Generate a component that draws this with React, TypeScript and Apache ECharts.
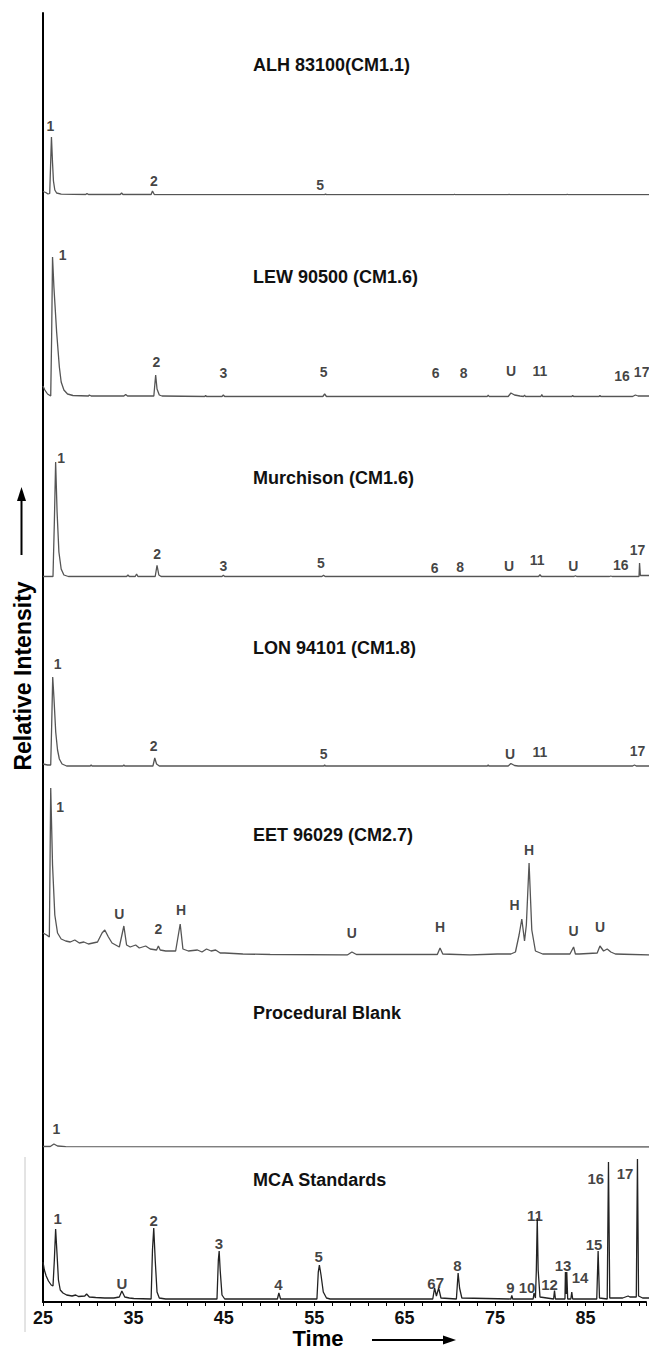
import React, { useEffect, useRef } from "react";
import * as echarts from "echarts";

const T_MIN = 25;
const T_MAX = 91.7;
const FONT = "'Liberation Sans', Arial, sans-serif";

// ---------- ALH 83100 ----------
const ALH_T = [25.0, 25.3, 25.55, 25.74, 25.93, 26.05, 26.15, 26.3, 26.5, 27.0, 29.7, 29.84, 30.0, 33.5, 33.65, 33.8, 36.9, 37.05, 37.25, 56.0, 56.1, 56.2, 70.2, 70.3, 70.4, 76.2, 76.3, 76.4, 82.6, 82.7, 82.8, 91.7];
const ALH_I = [3.5, 2.5, 1, 1.5, 58, 32, 14, 5, 2, 0.8, 0.5, 1.5, 0.5, 0.5, 2, 0.5, 0.5, 4, 0.5, 0.4, 1, 0.4, 0.3, 0.8, 0.3, 0.3, 0.8, 0.3, 0.3, 0.8, 0.3, 0.3];
const ALH_LABELS = ["1", "2", "5"];
const ALH_LT = [25.8, 37.2, 55.5];
const ALH_LI = [69, 14, 10];

// ---------- LEW 90500 ----------
const LEW_T = [25.0, 25.2, 25.5, 25.85, 25.95, 26.05, 26.2, 26.5, 26.8, 27.0, 27.3, 27.7, 28.3, 30.0, 30.1, 30.3, 33.9, 34.1, 34.3, 37.2, 37.4, 37.55, 37.8, 38.1, 42.8, 42.9, 43.0, 44.7, 44.85, 45.0, 55.8, 56.0, 56.2, 73.9, 74.0, 74.1, 76.2, 76.5, 76.9, 77.5, 77.9, 78.0, 78.1, 79.8, 79.9, 80.0, 83.2, 83.3, 83.4, 86.2, 86.3, 86.4, 89.9, 90.2, 90.5, 91.7];
const LEW_I = [11, 7, 3, 1, 60, 140, 110, 65, 30, 15, 7, 3, 1.5, 1, 2, 1, 1, 2.5, 1, 1, 22, 8, 2, 1, 0.5, 1.5, 0.5, 0.5, 2, 0.5, 0.5, 3, 0.5, 0.5, 2, 0.5, 0.5, 4, 2, 1, 0.5, 2, 0.5, 0.5, 2.5, 0.5, 0.5, 1.5, 0.5, 0.5, 1.5, 0.5, 0.5, 2, 1, 1];
const LEW_LABELS = ["1", "2", "3", "5", "6", "8", "U", "11", "16", "17"];
const LEW_LT = [27.17, 37.47, 44.85, 55.88, 68.23, 71.29, 76.51, 79.7, 88.73, 90.89];
const LEW_LI = [142, 35, 24, 25, 24, 24, 26, 26, 21, 25];

// ---------- Murchison ----------
const MUR_T = [25.0, 25.5, 26.1, 26.25, 26.39, 26.55, 26.75, 27.0, 27.3, 27.8, 34.2, 34.35, 34.5, 35.15, 35.3, 35.45, 37.35, 37.55, 37.75, 38.0, 44.7, 44.85, 45.0, 55.7, 55.88, 56.05, 79.55, 79.7, 79.85, 83.45, 83.6, 83.75, 87.35, 87.5, 87.65, 90.6, 90.66, 90.75, 91.7];
const MUR_I = [0.5, 0.5, 0.5, 55, 115, 65, 25, 8, 2, 0.5, 0.5, 2, 0.5, 0.5, 3, 0.5, 0.5, 11.7, 2, 0.5, 0.5, 1.7, 0.5, 0.5, 1.7, 0.5, 0.5, 2.3, 0.5, 0.5, 1.3, 0.5, 0.5, 1, 0.5, 0.5, 14, 1.5, 1.5];
const MUR_LABELS = ["1", "2", "3", "5", "6", "8", "U", "11", "U", "16", "17"];
const MUR_LT = [27.0, 37.55, 44.85, 55.6, 68.1, 70.92, 76.29, 79.4, 83.37, 88.6, 90.43];
const MUR_LI = [119, 23, 11, 14, 9, 10, 11, 17, 11, 12, 27];

// ---------- LON 94101 ----------
const LON_T = [25.0, 25.5, 25.85, 25.95, 26.07, 26.2, 26.4, 26.6, 26.8, 27.1, 27.6, 30.2, 30.3, 30.4, 33.8, 33.9, 34.0, 37.1, 37.3, 37.5, 37.8, 55.9, 56.0, 56.1, 73.9, 74.0, 74.1, 76.2, 76.5, 76.9, 77.3, 89.9, 90.1, 90.3, 91.7];
const LON_I = [3, 2, 2, 40, 90, 70, 35, 17, 8, 3, 1, 1, 2, 1, 1, 2, 1, 1, 9, 3, 1, 1, 2, 1, 1, 2, 1, 1, 3.5, 1.5, 1, 1, 2, 1, 1];
const LON_LABELS = ["1", "2", "5", "U", "11", "17"];
const LON_LT = [26.62, 37.19, 55.88, 76.4, 79.7, 90.43];
const LON_LI = [103, 21, 13, 13, 15, 16];

// ---------- EET 96029 ----------
const EET_T = [25.0, 25.4, 25.7, 25.85, 26.05, 26.3, 26.6, 27.0, 27.5, 28.0, 28.5, 29.0, 29.5, 30.0, 30.5, 31.0, 31.5, 31.8, 32.2, 32.6, 33.0, 33.4, 33.9, 34.2, 34.6, 35.2, 35.6, 36.3, 36.8, 37.5, 37.7, 37.9, 38.5, 39.6, 40.1, 40.4, 41.0, 42.0, 42.5, 43.0, 43.5, 44.0, 44.5, 45.0, 47.0, 50.0, 58.5, 59.0, 59.5, 68.4, 68.7, 69.0, 72.0, 75.0, 76.5, 77.0, 77.4, 77.7, 78.0, 78.2, 78.5, 78.8, 79.2, 80.0, 83.0, 83.4, 83.6, 84.0, 86.0, 86.3, 86.7, 87.1, 87.5, 88.0, 91.7];
const EET_I = [22, 20, 18, 167, 90, 40, 22, 16, 14, 13, 15, 12, 13, 11, 12, 13, 22, 25, 18, 12, 10, 8, 29, 10, 8, 10, 7, 9, 6, 5, 9, 5, 4, 4, 31, 6, 4, 5, 3, 6, 4, 5, 2, 2, 1, 0.5, 0, 3, 0.5, 0.5, 7, 1, 0, 1, 1, 3, 20, 36, 14, 30, 92, 25, 4, 1, 1, 8, 1, 1, 2, 9, 4, 6, 3, 1, 0];
const EET_LABELS = ["1", "U", "2", "H", "U", "H", "H", "H", "U", "U"];
const EET_LT = [26.9, 33.4, 37.7, 40.2, 59.0, 68.7, 76.9, 78.5, 83.4, 86.3];
const EET_LI = [148, 41, 26, 45, 22, 28, 50, 105, 24, 28];

// ---------- Procedural Blank ----------
const BLK_T = [25.0, 25.8, 26.2, 26.6, 27.5, 91.7];
const BLK_I = [0.5, 0.5, 3, 1, 0.3, 0];
const BLK_LABELS = ["1"];
const BLK_LT = [26.47];
const BLK_LI = [18];

// ---------- MCA Standards ----------
const MCA_T = [25.0, 25.15, 25.35, 25.6, 25.9, 26.1, 26.25, 26.39, 26.55, 26.7, 26.9, 27.2, 27.6, 28.2, 28.6, 28.9, 29.6, 29.8, 30.1, 30.8, 31.8, 32.8, 33.4, 33.68, 34.0, 34.5, 35.0, 36.9, 37.05, 37.19, 37.35, 37.55, 37.8, 38.5, 44.15, 44.3, 44.39, 44.5, 44.7, 45.0, 50.8, 50.96, 51.15, 55.15, 55.3, 55.42, 55.6, 55.85, 56.2, 56.6, 67.9, 68.1, 68.3, 68.55, 68.8, 70.5, 70.69, 70.85, 71.1, 76.5, 76.6, 76.7, 78.95, 79.04, 79.2, 79.3, 79.4, 79.5, 79.7, 81.2, 81.3, 81.4, 82.45, 82.5, 82.6, 82.65, 82.75, 83.1, 83.2, 83.3, 85.95, 86.1, 86.25, 87.1, 87.24, 87.38, 88.8, 89.4, 89.6, 90.3, 90.43, 90.55, 91.0, 91.7];
const MCA_I = [38, 30, 24, 19, 15, 14, 40, 71, 45, 20, 10, 7, 5, 4, 5, 3.5, 4, 6, 3, 2.5, 2, 2, 3, 9, 3, 2, 1.5, 1, 50, 72, 40, 8, 2, 1, 1, 40, 49, 30, 5, 1, 1, 7, 1, 1, 28, 35, 25, 8, 2, 1, 1, 12, 4, 12, 2, 1, 27, 12, 2, 1, 4.5, 1, 1, 7, 2, 30, 82, 30, 3, 1, 9.5, 1, 1, 28, 6, 28, 1, 1, 8, 1, 1, 49, 2, 1, 138, 2, 2, 4, 3, 3, 141, 4, 2, 2];
const MCA_LABELS = ["1", "U", "2", "3", "4", "5", "6", "7", "8", "9", "10", "11", "12", "13", "14", "15", "16", "17"];
const MCA_LT = [26.62, 33.68, 37.19, 44.35, 50.91, 55.33, 67.75, 68.69, 70.6, 76.45, 78.27, 79.15, 80.75, 82.24, 84.11, 85.65, 85.84, 89.07];
const MCA_LI = [82, 17, 80, 57, 16, 44, 17, 18, 34.5, 13, 13, 85, 16, 34.5, 23, 56, 122, 127];

const PANELS = [
  { title: "ALH 83100(CM1.1)", titleY: 65, baseline: 195, span: 160, t: ALH_T, v: ALH_I, lab: ALH_LABELS, lt: ALH_LT, li: ALH_LI, color: "#555", lfs: 14 },
  { title: "LEW 90500 (CM1.6)", titleY: 277, baseline: 397, span: 160, t: LEW_T, v: LEW_I, lab: LEW_LABELS, lt: LEW_LT, li: LEW_LI, color: "#555", lfs: 14 },
  { title: "Murchison (CM1.6)", titleY: 478, baseline: 577, span: 160, t: MUR_T, v: MUR_I, lab: MUR_LABELS, lt: MUR_LT, li: MUR_LI, color: "#555", lfs: 14 },
  { title: "LON 94101 (CM1.8)", titleY: 648, baseline: 767, span: 160, t: LON_T, v: LON_I, lab: LON_LABELS, lt: LON_LT, li: LON_LI, color: "#555", lfs: 14 },
  { title: "EET 96029 (CM2.7)", titleY: 835, baseline: 955, span: 200, t: EET_T, v: EET_I, lab: EET_LABELS, lt: EET_LT, li: EET_LI, color: "#555", lfs: 14 },
  { title: "Procedural Blank", titleY: 1013, baseline: 1147, span: 160, t: BLK_T, v: BLK_I, lab: BLK_LABELS, lt: BLK_LT, li: BLK_LI, color: "#555", lfs: 14 },
  { title: "MCA Standards", titleY: 1180, baseline: 1300, span: 160, t: MCA_T, v: MCA_I, lab: MCA_LABELS, lt: MCA_LT, li: MCA_LI, color: "#222", lfs: 15 },
];

const AX_LEFT = 43;
const AX_TOP = 13;
const AX_BOTTOM = 1302;

function buildOption() {
  const grid: any[] = [
    { left: AX_LEFT, right: 0, top: AX_TOP, height: AX_BOTTOM - AX_TOP, containLabel: false },
  ];
  const xAxis: any[] = [
    {
      gridIndex: 0, type: "value", min: T_MIN, max: T_MAX, interval: 2,
      axisLine: { show: true, lineStyle: { color: "#000", width: 2 } },
      axisTick: { show: true, length: 4, inside: false, lineStyle: { color: "#000", width: 1 } },
      splitLine: { show: false },
      axisLabel: {
        show: true, margin: 7, color: "#111", fontFamily: FONT, fontWeight: "bold", fontSize: 18,
        formatter: (v: number) => (Math.abs((v - T_MIN) % 10) < 1e-6 ? String(Math.round(v)) : ""),
      },
    },
  ];
  const yAxis: any[] = [
    {
      gridIndex: 0, type: "value", min: 0, max: 1,
      axisLine: { show: true, onZero: false, lineStyle: { color: "#000", width: 2 } },
      axisTick: { show: false }, axisLabel: { show: false }, splitLine: { show: false },
    },
  ];
  const series: any[] = [];
  const graphic: any[] = [];

  PANELS.forEach((p, k) => {
    const gi = k + 1;
    grid.push({ left: AX_LEFT, right: 0, top: p.baseline - p.span, height: p.span });
    xAxis.push({ gridIndex: gi, type: "value", min: T_MIN, max: T_MAX, show: false });
    yAxis.push({ gridIndex: gi, type: "value", min: 0, max: p.span, show: false });
    series.push({
      type: "line", xAxisIndex: gi, yAxisIndex: gi, showSymbol: false, symbol: "none",
      data: p.t.map((t, j) => [t, p.v[j]]),
      lineStyle: { color: p.color, width: 1.3 }, z: 3, silent: true,
    });
    series.push({
      type: "scatter", xAxisIndex: gi, yAxisIndex: gi, symbolSize: 0,
      data: p.lt.map((t, j) => [t, p.li[j], p.lab[j]]),
      label: {
        show: true, position: "inside", formatter: (q: any) => q.value[2],
        color: "#111", fontFamily: FONT, fontWeight: "bold", fontSize: p.lfs,
      },
      z: 5, silent: true,
    });
    graphic.push({
      type: "text", x: 253, y: p.titleY,
      style: { text: p.title, fill: "#111", fontFamily: FONT, fontWeight: "bold", fontSize: 18, align: "left", verticalAlign: "middle" },
    });
  });

  graphic.push(
    { type: "text", x: 23, y: 676, rotation: Math.PI / 2,
      style: { text: "Relative Intensity", fill: "#000", fontFamily: FONT, fontWeight: "bold", fontSize: 23, align: "center", verticalAlign: "middle" } },
    { type: "line", shape: { x1: 21.5, y1: 555, x2: 21.5, y2: 500 }, style: { stroke: "#000", lineWidth: 2 } },
    { type: "polygon", shape: { points: [[21.5, 487], [17, 501], [26, 501]] }, style: { fill: "#000" } },
    { type: "text", x: 318, y: 1338,
      style: { text: "Time", fill: "#000", fontFamily: FONT, fontWeight: "bold", fontSize: 22, align: "center", verticalAlign: "middle" } },
    { type: "line", shape: { x1: 372, y1: 1340, x2: 444, y2: 1340 }, style: { stroke: "#000", lineWidth: 2 } },
    { type: "polygon", shape: { points: [[456, 1340], [443, 1335.5], [443, 1344.5]] }, style: { fill: "#000" } },
    { type: "line", shape: { x1: 25, y1: 1157, x2: 25, y2: 1332 }, style: { stroke: "#c8c8c8", lineWidth: 1 } },
  );

  return { animation: false, backgroundColor: "#fff", grid, xAxis, yAxis, series, graphic };
}

export default function App() {
  const ref = useRef<HTMLDivElement>(null);
  useEffect(() => {
    const chart = echarts.init(ref.current!, null, { renderer: "svg" });
    chart.setOption(buildOption());
    return () => chart.dispose();
  }, []);
  return (
    <div
      ref={ref}
      style={{ position: "absolute", left: 0, top: 0, width: 649, height: 1355, background: "#fff" }}
    />
  );
}
